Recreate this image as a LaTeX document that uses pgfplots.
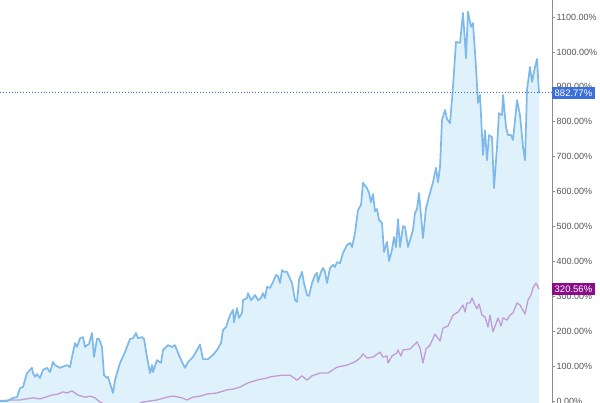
\documentclass[border=0pt]{standalone}
\usepackage{fontspec}
\setmainfont{Liberation Sans}
\usepackage{pgfplots}
\pgfplotsset{compat=1.18}
\usepgfplotslibrary{fillbetween}
\usepackage{pgfplotstable}

\definecolor{lineblue}{HTML}{7DB9EA}
\definecolor{fillblue}{HTML}{DFF1FA}
\definecolor{linepurple}{HTML}{C39BD5}
\definecolor{tagblue}{HTML}{3D6FDB}
\definecolor{tagpurple}{HTML}{8A0C8A}
\definecolor{axisgray}{HTML}{8C8C8C}
\definecolor{ticktext}{HTML}{555555}

% x: trading-day index, y: cumulative return in %
\pgfplotstableread{
x y
0 0
7 0
13 9
17 11
20 37
23 40
27 80
28 83
32 95
33 80
35 69
37 77
40 66
43 89
47 95
50 83
53 112
55 103
60 95
67 103
70 97
72 126
75 166
77 155
80 180
83 183
85 155
87 160
89 163
92 195
94 126
97 178
99 178
102 155
104 74
107 66
108 69
113 23
115 60
120 109
125 140
130 178
133 180
136 195
138 180
142 183
144 178
147 126
150 80
152 103
153 83
157 117
161 109
163 146
168 160
172 155
175 160
178 138
182 112
185 95
188 112
193 126
197 146
200 162
203 120
208 120
213 132
217 146
221 166
223 203
226 212
230 246
233 261
234 226
237 266
239 238
242 252
243 289
247 295
248 309
251 289
253 295
255 304
258 289
261 295
263 309
265 295
267 327
270 324
273 341
276 361
278 358
280 338
282 375
284 370
287 370
292 338
295 289
297 284
299 347
302 370
304 338
307 304
309 301
312 338
315 361
317 367
318 341
321 370
323 381
325 370
327 338
330 381
333 390
335 384
337 398
340 395
343 424
347 447
350 453
352 441
355 481
358 547
361 562
363 625
367 610
369 596
371 570
373 593
375 544
377 550
379 519
382 510
384 427
387 456
389 401
392 433
394 470
396 441
398 521
400 441
403 501
405 499
408 441
413 490
415 539
417 550
419 596
422 499
423 467
426 553
430 596
433 627
436 668
438 627
440 670
442 805
445 834
447 808
450 796
453 900
456 1029
460 1026
463 1112
466 983
468 1115
471 1072
473 1083
476 957
478 854
480 877
483 705
485 776
487 690
489 762
492 756
494 610
497 728
499 825
502 819
503 877
506 785
508 762
511 762
513 748
515 805
517 862
520 819
523 728
525 690
527 891
530 957
532 914
535 957
537 980
539 882.77
}\stockdata

\pgfplotstableread{
x y
0 1
13 3
20 3
33 9
40 6
52 17
58 20
63 26
67 23
72 29
78 17
85 11
90 14
95 9
100 -3
105 -10
115 -18
125 -15
135 -12
143 -3
150 0
157 3
167 11
173 14
182 9
187 3
193 11
200 14
207 20
217 23
227 32
233 34
240 40
248 52
257 60
267 66
270 69
277 72
282 74
290 74
297 60
302 72
307 60
312 72
320 80
328 80
337 97
347 103
355 112
360 123
363 135
367 123
373 126
380 140
383 126
387 129
388 109
392 129
397 138
398 146
401 129
403 146
410 149
417 169
420 152
423 109
426 149
430 160
435 192
440 172
443 209
448 215
453 246
458 255
463 275
465 255
467 281
470 281
472 295
475 275
477 264
479 278
482 246
485 241
488 212
490 246
493 198
498 238
501 215
503 238
507 232
510 246
513 252
517 281
520 275
525 249
528 289
531 304
533 324
536 338
539 320.56
}\indexdata

\begin{document}
\begin{tikzpicture}
\begin{axis}[
    scale only axis,
    width=552pt,
    height=403pt,
    xmin=0, xmax=552,
    ymin=-5.7, ymax=1149,
    axis x line=none,
    axis y line*=right,
    axis line style={axisgray, line width=0.8pt},
    xtick=\empty,
    ytick={0,100,...,1100},
    tick align=outside,
    major tick length=3pt,
    ytick style={axisgray, line width=0.6pt},
    yticklabel={\pgfmathprintnumber[fixed,fixed zerofill,precision=2,1000 sep={}]{\tick}\%},
    /pgf/number format/assume math mode=true,
    yticklabel style={font=\fontsize{9}{10}\selectfont, text=ticktext, inner sep=1.5pt},
    clip mode=individual,
]
\addplot[name path=stock, draw=none, forget plot] table {\stockdata};
\path[name path=floor] (axis cs:0,-30) -- (axis cs:539,-30);
\addplot[fillblue, draw=none, forget plot] fill between[of=stock and floor];
\addplot[linepurple, line width=1.3pt, line join=round] table {\indexdata};
\addplot[lineblue, line width=1.7pt, line join=round] table {\stockdata};
\addplot[draw=tagblue, dotted, line width=0.9pt] coordinates {(0,882.77) (552,882.77)};
\node[fill=tagblue, text=white, font=\fontsize{9.5}{10}\selectfont, inner xsep=2.5pt, inner ysep=2.5pt, anchor=west]
    at ({rel axis cs:1,0} |- {axis cs:0,882.77}) {882.77\%};
\node[fill=tagpurple, text=white, font=\fontsize{9.5}{10}\selectfont, inner xsep=2.5pt, inner ysep=2.5pt, anchor=west]
    at ({rel axis cs:1,0} |- {axis cs:0,320.56}) {320.56\%};
\end{axis}
\pgfresetboundingbox
\useasboundingbox (0,0) rectangle (600pt,403pt);
\end{tikzpicture}
\end{document}
